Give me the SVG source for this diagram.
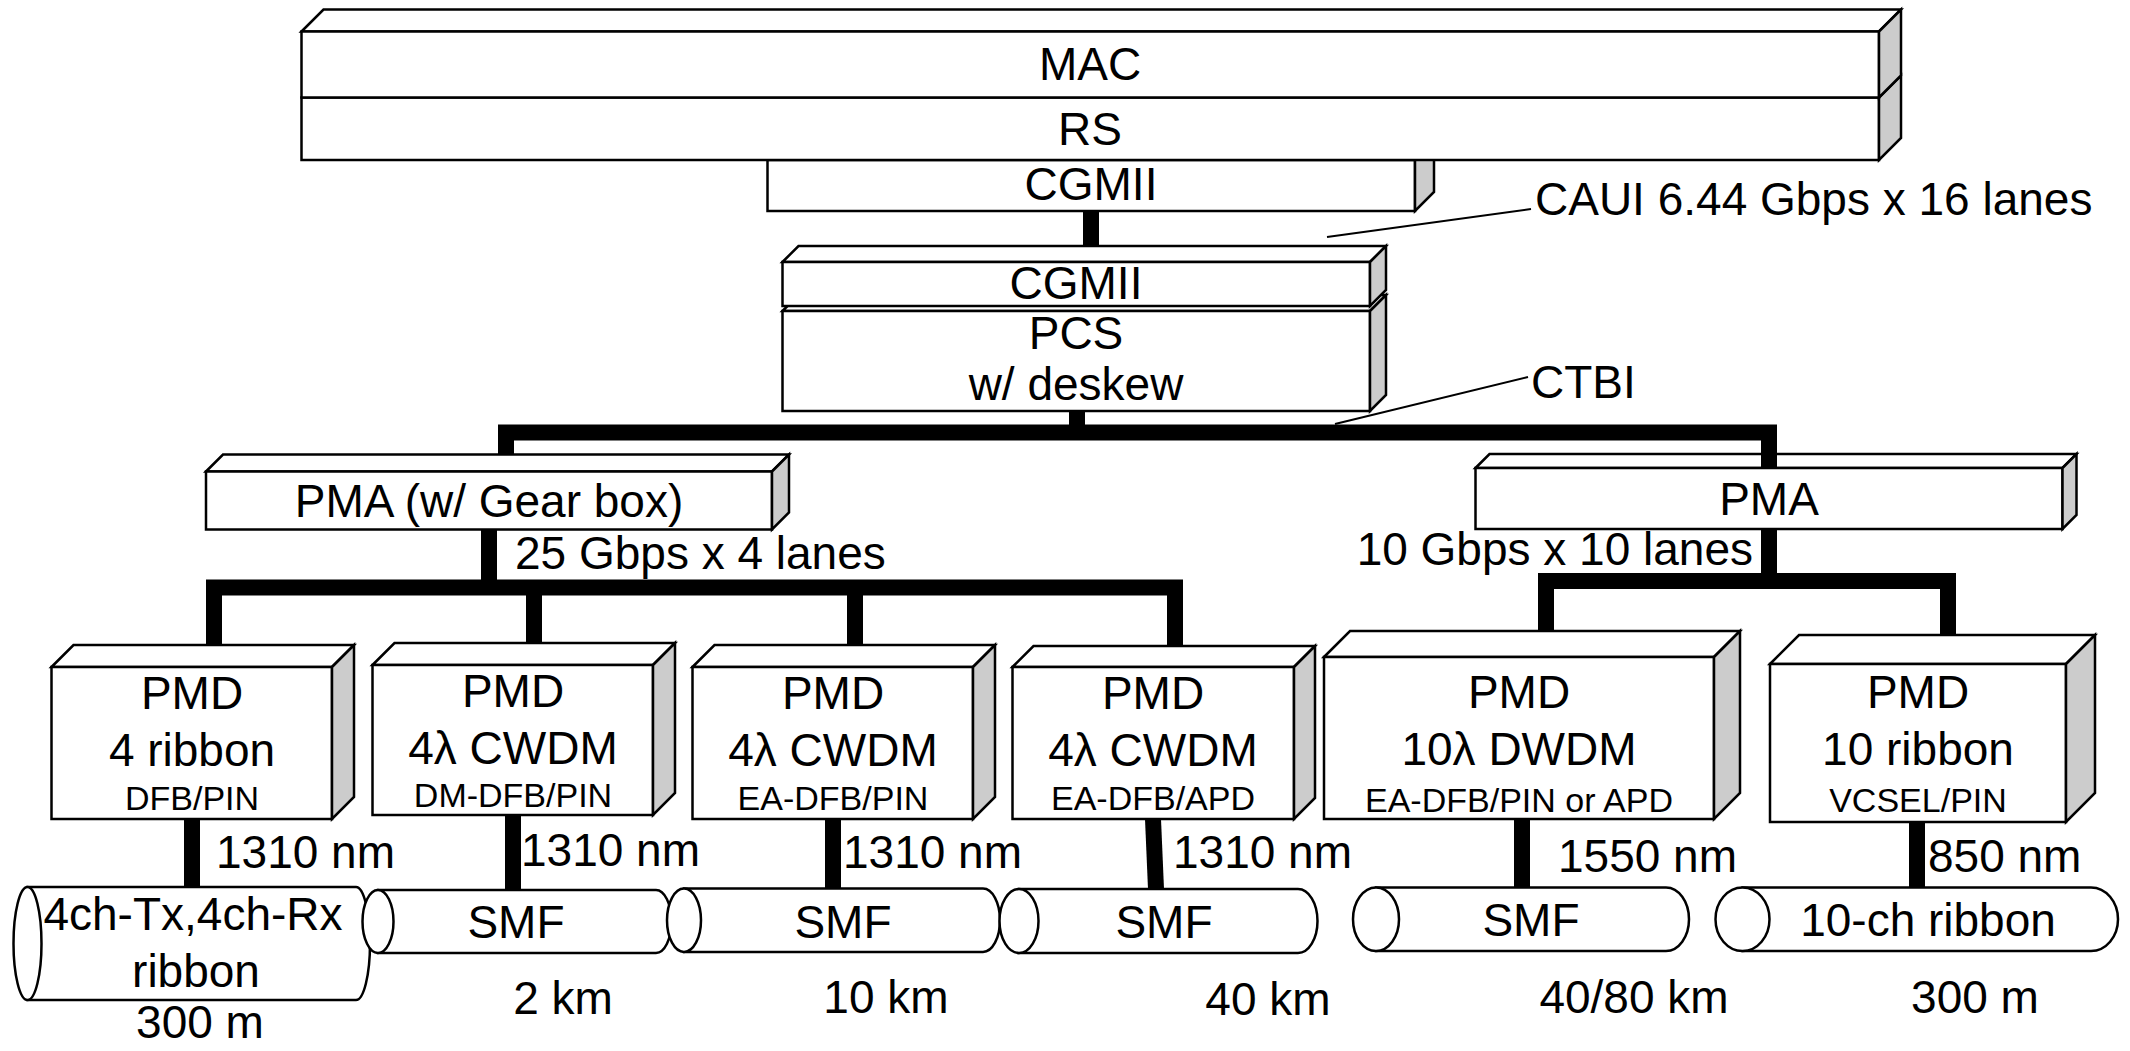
<svg xmlns="http://www.w3.org/2000/svg" width="2130" height="1051" viewBox="0 0 2130 1051">
<style>
.f{fill:#fff;stroke:#000;stroke-width:2.5;stroke-linejoin:miter}
.s{fill:#ccc;stroke:#000;stroke-width:2.5}
.t{font-family:"Liberation Sans",Arial,sans-serif;font-size:46px;fill:#000;text-anchor:middle}
.sm{font-size:34px}
.l{text-anchor:start}
.e{text-anchor:end}
.bar{fill:none;stroke:#000;stroke-width:16;stroke-linejoin:miter;stroke-linecap:butt}
.lead{fill:none;stroke:#000;stroke-width:2}
</style>
<rect width="2130" height="1051" fill="#fff"/>

<g id="cgmii-top">
<rect class="f" x="767.5" y="160" width="647.5" height="51"/>
<polygon class="s" points="1415,160 1434,141 1434,192 1415,211"/>
<text class="t" x="1091" y="200">CGMII</text>
</g>
<g id="rs">
<rect class="f" x="301.5" y="97.5" width="1577.5" height="62.5"/>
<polygon class="s" points="1879,97.5 1901,75.5 1901,138 1879,160"/>
<text class="t" x="1090" y="145">RS</text>
</g>
<g id="mac">
<polygon class="f" points="301.5,31.5 323.5,9.5 1901,9.5 1879,31.5"/>
<rect class="f" x="301.5" y="31.5" width="1577.5" height="66"/>
<polygon class="s" points="1879,31.5 1901,9.5 1901,75.5 1879,97.5"/>
<text class="t" x="1090" y="80">MAC</text>
</g>

<g id="pcs">
<polygon class="f" points="782.5,311 798.5,295 1386,295 1370,311"/>
<rect class="f" x="782.5" y="311" width="587.5" height="100"/>
<polygon class="s" points="1370,311 1386,295 1386,395 1370,411"/>
<text class="t" x="1076" y="349">PCS</text>
<text class="t" x="1076" y="400">w/ deskew</text>
</g>
<g id="cgmii-low">
<polygon class="f" points="782.5,262 798.5,246 1386,246 1370,262"/>
<rect class="f" x="782.5" y="262" width="587.5" height="44"/>
<polygon class="s" points="1370,262 1386,246 1386,290 1370,306"/>
<text class="t" x="1076" y="299">CGMII</text>
</g>

<g id="pma-left">
<polygon class="f" points="206,471.5 223,454.5 789,454.5 772,471.5"/>
<rect class="f" x="206" y="471.5" width="566" height="58"/>
<polygon class="s" points="772,471.5 789,454.5 789,512.5 772,529.5"/>
<text class="t" x="489" y="517">PMA (w/ Gear box)</text>
</g>
<g id="pma-right">
<polygon class="f" points="1475.5,468 1489.5,454 2076.5,454 2062.5,468"/>
<rect class="f" x="1475.5" y="468" width="587" height="61"/>
<polygon class="s" points="2062.5,468 2076.5,454 2076.5,515 2062.5,529"/>
<text class="t" x="1769" y="515">PMA</text>
</g>

<g id="pmd1">
<polygon class="f" points="51.5,667 73.5,645 354,645 332,667"/>
<rect class="f" x="51.5" y="667" width="280.5" height="152"/>
<polygon class="s" points="332,667 354,645 354,797 332,819"/>
<text class="t" x="192" y="709">PMD</text>
<text class="t" x="192" y="766">4 ribbon</text>
<text class="t sm" x="192" y="810">DFB/PIN</text>
</g>
<g id="pmd2">
<polygon class="f" points="372.5,665 394.5,643 675,643 653,665"/>
<rect class="f" x="372.5" y="665" width="280.5" height="150"/>
<polygon class="s" points="653,665 675,643 675,793 653,815"/>
<text class="t" x="513" y="707">PMD</text>
<text class="t" x="513" y="764">4λ CWDM</text>
<text class="t sm" x="513" y="807">DM-DFB/PIN</text>
</g>
<g id="pmd3">
<polygon class="f" points="692.5,667 714.5,645 995,645 973,667"/>
<rect class="f" x="692.5" y="667" width="280.5" height="152"/>
<polygon class="s" points="973,667 995,645 995,797 973,819"/>
<text class="t" x="833" y="709">PMD</text>
<text class="t" x="833" y="766">4λ CWDM</text>
<text class="t sm" x="833" y="810">EA-DFB/PIN</text>
</g>
<g id="pmd4">
<polygon class="f" points="1012.5,667 1033.5,646 1315,646 1294,667"/>
<rect class="f" x="1012.5" y="667" width="281.5" height="152"/>
<polygon class="s" points="1294,667 1315,646 1315,798 1294,819"/>
<text class="t" x="1153" y="709">PMD</text>
<text class="t" x="1153" y="766">4λ CWDM</text>
<text class="t sm" x="1153" y="810">EA-DFB/APD</text>
</g>
<g id="pmd5">
<polygon class="f" points="1324,657 1350,631 1740,631 1714,657"/>
<rect class="f" x="1324" y="657" width="390" height="162"/>
<polygon class="s" points="1714,657 1740,631 1740,793 1714,819"/>
<text class="t" x="1519" y="708">PMD</text>
<text class="t" x="1519" y="765">10λ DWDM</text>
<text class="t sm" x="1519" y="812">EA-DFB/PIN or APD</text>
</g>
<g id="pmd6">
<polygon class="f" points="1770,664 1799,635 2095,635 2066,664"/>
<rect class="f" x="1770" y="664" width="296" height="158"/>
<polygon class="s" points="2066,664 2095,635 2095,793 2066,822"/>
<text class="t" x="1918" y="708">PMD</text>
<text class="t" x="1918" y="765">10 ribbon</text>
<text class="t sm" x="1918" y="812">VCSEL/PIN</text>
</g>

<g id="cable1">
<path class="f" d="M27.5,887 H356 A14,56.5 0 0 1 356,1000 H27.5 Z"/>
<ellipse class="f" cx="27.5" cy="943.5" rx="14" ry="56.5"/>
<text class="t" x="193" y="930">4ch-Tx,4ch-Rx</text>
<text class="t" x="196" y="987">ribbon</text>
</g>
<g id="cable2">
<path class="f" d="M378,890 H656 A15.5,31.5 0 0 1 656,953 H378 Z"/>
<ellipse class="f" cx="378" cy="921.5" rx="15.5" ry="31.5"/>
<text class="t" x="516" y="938">SMF</text>
</g>
<g id="cable3">
<path class="f" d="M684,888.5 H983 A17,31.75 0 0 1 983,952 H684 Z"/>
<ellipse class="f" cx="684" cy="920.25" rx="17" ry="31.75"/>
<text class="t" x="843" y="938">SMF</text>
</g>
<g id="cable4">
<path class="f" d="M1019,889 H1298 A19.5,32 0 0 1 1298,953 H1019 Z"/>
<ellipse class="f" cx="1019" cy="921" rx="19.5" ry="32"/>
<text class="t" x="1164" y="938">SMF</text>
</g>
<g id="cable5">
<path class="f" d="M1376,887.5 H1666 A23,31.75 0 0 1 1666,951 H1376 Z"/>
<ellipse class="f" cx="1376" cy="919.25" rx="23" ry="31.75"/>
<text class="t" x="1531" y="936">SMF</text>
</g>
<g id="cable6">
<path class="f" d="M1742.5,887.5 H2091 A27,31.75 0 0 1 2091,951 H1742.5 Z"/>
<ellipse class="f" cx="1742.5" cy="919.25" rx="27" ry="31.75"/>
<text class="t" x="1928" y="936">10-ch ribbon</text>
</g>

<g id="connectors">
<path class="bar" d="M1091,211 V246"/>
<path class="bar" d="M1077,411 V432.5"/>
<path class="bar" d="M506,454.5 V432.5 H1769 V468"/>
<path class="bar" d="M489,529.5 V587.5"/>
<path class="bar" d="M214,645 V587.5 H1175 V646"/>
<path class="bar" d="M534,587.5 V643"/>
<path class="bar" d="M855,587.5 V645"/>
<path class="bar" d="M1769,529 V581"/>
<path class="bar" d="M1546,631 V581 H1948 V635"/>
<path class="bar" d="M192,819 V887"/>
<path class="bar" d="M513,815 V890"/>
<path class="bar" d="M833,819 V888.5"/>
<path class="bar" d="M1153,819 L1156,889"/>
<path class="bar" d="M1522,819 V887.5"/>
<path class="bar" d="M1917,822 V887.5"/>
<path class="lead" d="M1327,237 L1531,209"/>
<path class="lead" d="M1335,424 L1528,377"/>
</g>

<g id="labels">
<text class="t l" x="1535" y="215">CAUI 6.44 Gbps x 16 lanes</text>
<text class="t l" x="1531" y="398">CTBI</text>
<text class="t l" x="515" y="569">25 Gbps x 4 lanes</text>
<text class="t e" x="1753" y="565">10 Gbps x 10 lanes</text>
<text class="t l" x="216" y="868">1310 nm</text>
<text class="t l" x="521" y="866">1310 nm</text>
<text class="t l" x="843" y="868">1310 nm</text>
<text class="t l" x="1173" y="868">1310 nm</text>
<text class="t l" x="1558" y="872">1550 nm</text>
<text class="t l" x="1928" y="872">850 nm</text>
<text class="t" x="200" y="1038">300 m</text>
<text class="t" x="563" y="1014">2 km</text>
<text class="t" x="886" y="1013">10 km</text>
<text class="t" x="1268" y="1015">40 km</text>
<text class="t" x="1634" y="1013">40/80 km</text>
<text class="t" x="1975" y="1013">300 m</text>
</g>
</svg>
